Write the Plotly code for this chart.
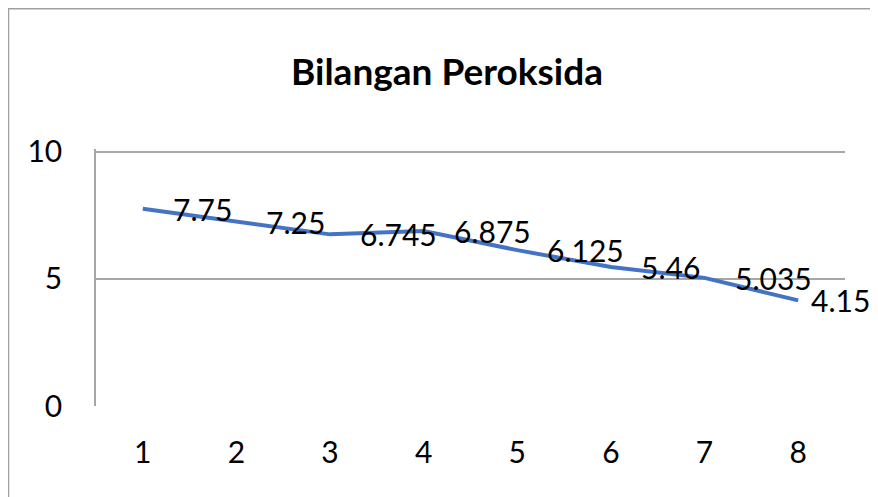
import plotly.graph_objects as go

categories = [1, 2, 3, 4, 5, 6, 7, 8]
values = [7.75, 7.25, 6.745, 6.875, 6.125, 5.46, 5.035, 4.15]
value_labels = ["7.75", "7.25", "6.745", "6.875", "6.125", "5.46", "5.035", "4.15"]
y_ticks = [0, 5, 10]
title_text = "Bilangan Peroksida"

FONT = "Lato"
GRID = "#a6a6a6"

fig = go.Figure()
fig.add_trace(go.Scatter(
    x=categories, y=values, mode="lines",
    line=dict(color="#4472C4", width=4), hoverinfo="skip", showlegend=False,
))

n = len(categories)
for i, (c, v, t) in enumerate(zip(categories, values, value_labels)):
    # the last label is nudged inward so it stays inside the chart, as in the reference
    shift = 11 if i == n - 1 else 28
    fig.add_annotation(x=c, y=v, text=t, showarrow=False, xanchor="left",
                       yanchor="middle", xshift=shift, yshift=0,
                       font=dict(family=FONT, size=30, color="#000000"))

fig.add_annotation(xref="paper", yref="paper", x=0.4686, y=1.306, text="<b>" + title_text + "</b>",
                   showarrow=False, xanchor="center", yanchor="middle",
                   font=dict(family=FONT, size=37, color="#000000"))

# outer chart border
fig.add_shape(type="rect", xref="paper", yref="paper", x0=-0.1168, y0=-0.5, x1=1.2, y1=1.546,
              line=dict(color="#a0a0a0", width=1.5), fillcolor="rgba(0,0,0,0)", layer="below")

fig.update_layout(
    width=878, height=497,
    margin=dict(l=88, r=41, t=141, b=99, autoexpand=False),
    paper_bgcolor="white", plot_bgcolor="white",
    font=dict(family=FONT, size=30, color="#000000"),
    xaxis=dict(range=[0.5, 8.5], tickvals=categories, showgrid=False, zeroline=False,
               showline=False, ticks="", ticklabelstandoff=26, automargin=False,
               tickfont=dict(family=FONT, size=30)),
    yaxis=dict(range=[0, 10.1], tickvals=y_ticks, showgrid=True, gridcolor=GRID, gridwidth=1.5,
               zeroline=False, showline=True, linecolor=GRID, linewidth=1.5, ticks="",
               ticklabelstandoff=26, automargin=False, tickfont=dict(family=FONT, size=30)),
)

fig.write_html("out.html")
